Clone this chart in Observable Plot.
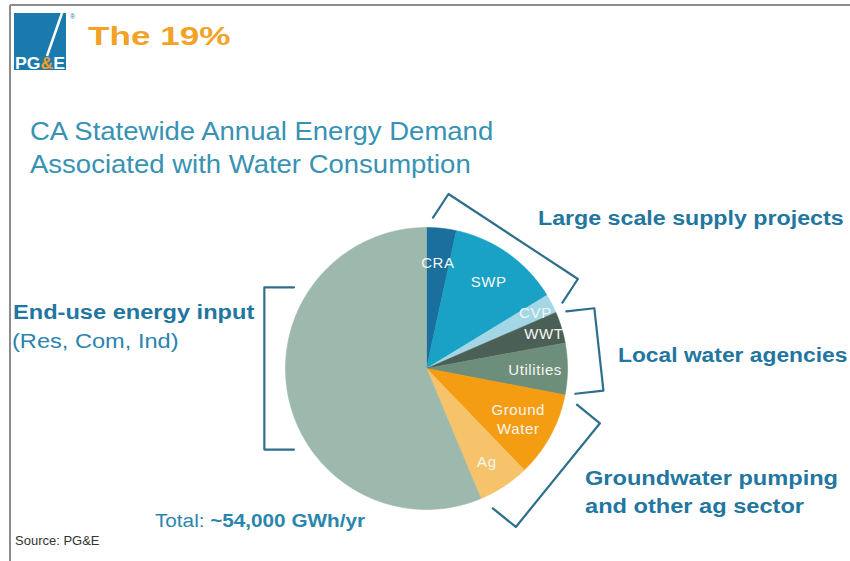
<!DOCTYPE html>
<html><head><meta charset="utf-8">
<script src="https://cdn.jsdelivr.net/npm/d3@7"></script>
<script src="https://cdn.jsdelivr.net/npm/@observablehq/plot@0.6"></script>
<style>
html,body{margin:0;padding:0;background:#fff;}
#wrap{position:relative;width:850px;height:561px;overflow:hidden;font-family:"Liberation Sans",Arial,sans-serif;background:#fff;}
#chart{position:absolute;left:0;top:0;}
.t{position:absolute;white-space:nowrap;line-height:1;transform-origin:0 0;}
.ann{font-weight:bold;font-size:20px;color:#22769f;transform:scaleX(1.18);}
</style></head>
<body>
<div id="wrap">
  <div id="chart"></div>
  <svg style="position:absolute;left:0;top:0" width="850" height="561">
    <line x1="10" y1="5" x2="850" y2="5" stroke="#8c8c8c" stroke-width="2"/>
    <line x1="10" y1="5" x2="10" y2="561" stroke="#8c8c8c" stroke-width="2"/>
    <rect x="14" y="13" width="52" height="57" fill="#1a7aad"/>
    <path d="M62 13 L47 56" stroke="#fff" stroke-width="2.5" fill="none"/>
    <text x="15" y="69" font-family="Liberation Sans, Arial" font-weight="bold" font-size="17" fill="#fff" textLength="50" lengthAdjust="spacingAndGlyphs">PG<tspan fill="#f39c1e">&amp;</tspan>E</text>
    <text x="70" y="19" font-family="Liberation Sans, Arial" font-size="7" fill="#1a7aad">®</text>
  </svg>
  <div class="t" id="title" style="left:88px;top:23px;font-size:26px;font-weight:bold;color:#f2a224;transform:scaleX(1.35)">The 19%</div>
  <div class="t" style="left:30px;top:118.8px;font-size:25px;color:#3792b4;transform:scaleX(1.1)">CA Statewide Annual Energy Demand</div>
  <div class="t" style="left:30px;top:151.8px;font-size:25px;color:#3792b4;transform:scaleX(1.1)">Associated with Water Consumption</div>
  <div class="t ann" style="left:538px;top:208.1px;transform:scaleX(1.16)">Large scale supply projects</div>
  <div class="t ann" style="left:618px;top:345.1px;transform:scaleX(1.14)">Local water agencies</div>
  <div class="t ann" style="left:585px;top:468.1px">Groundwater pumping</div>
  <div class="t ann" style="left:585px;top:496.1px">and other ag sector</div>
  <div class="t ann" style="left:13px;top:302.1px">End-use energy input</div>
  <div class="t" style="left:12px;top:331.1px;font-size:20px;color:#2a84ad;transform:scaleX(1.18)">(Res, Com, Ind)</div>
  <div class="t" style="left:155px;top:511.8px;font-size:18px;color:#2a86ad;transform:scaleX(1.15)">Total: <b>~54,000 GWh/yr</b></div>
  <div class="t" style="left:15px;top:534px;font-size:13px;color:#333">Source: PG&amp;E</div>
</div>
<script>
// ---- data ----
const categories = ["CRA", "SWP", "CVP", "WWT", "Utilities", "Ground Water", "Ag", "End-use"];
const shares = [3.4, 12.9, 2.2, 3.6, 5.9, 9.8, 5.9, 56.3]; // % of ~54,000 GWh/yr
const sliceLabels = ["CRA", "SWP", "CVP", "WWT", "Utilities", "Ground\nWater", "Ag", ""];
const colors = ["#1a6f9c", "#19a2c6", "#a3d7e6", "#4b5f56", "#6e8e7c", "#f59d12", "#f7c36a", "#9db8ad"];
const groupNames = ["Large scale supply projects", "Local water agencies", "Groundwater pumping and other ag sector", "End-use energy input"];
const groupOf = [0, 0, 0, 1, 1, 2, 2, 3];

// ---- layout (positions / sizes) ----
const cx = 426, cy = 368, R = 141;
const labelRadius = [0.76, 0.76, 0.87, 0.87, 0.77, 0.74, 0.78, 0];
const bracketDist = [1.12, 1.23, 1.2, 1.15];
const bracketHook = [0.2, 0.2, 0.21, 0.21];
const bracketOverride = {3: {dir: 270, half: 0.575}};

const arcs = d3.pie().sort(null).value(d => d)(shares);

// slice polygons
const slicePts = [];
arcs.forEach((a, i) => {
  const name = categories[i];
  slicePts.push({name, x: 0, y: 0});
  const n = Math.max(2, Math.ceil((a.endAngle - a.startAngle) / (Math.PI / 360)));
  for (let k = 0; k <= n; k++) {
    const t = a.startAngle + (a.endAngle - a.startAngle) * k / n;
    slicePts.push({name, x: Math.sin(t), y: Math.cos(t)});
  }
  slicePts.push({name, x: 0, y: 0});
});

// labels
const labels = arcs.map((a, i) => {
  const m = (a.startAngle + a.endAngle) / 2;
  return {text: sliceLabels[i], x: labelRadius[i] * Math.sin(m), y: labelRadius[i] * Math.cos(m)};
}).filter(d => d.text);

// brackets from group angle spans
const bracketPts = [];
groupNames.forEach((g, gi) => {
  const members = arcs.filter((a, i) => groupOf[i] === gi);
  const s = d3.min(members, a => a.startAngle), e = d3.max(members, a => a.endAngle);
  let dir = (s + e) / 2, half = Math.sin((e - s) / 2);
  if (bracketOverride[gi]) { dir = bracketOverride[gi].dir * Math.PI / 180; half = bracketOverride[gi].half; }
  const n = [Math.sin(dir), Math.cos(dir)], t = [Math.cos(dir), -Math.sin(dir)];
  const d = bracketDist[gi], h = bracketHook[gi];
  const F = [d * n[0], d * n[1]];
  const E1 = [F[0] - half * t[0], F[1] - half * t[1]];
  const E2 = [F[0] + half * t[0], F[1] + half * t[1]];
  [[E1[0] - h * n[0], E1[1] - h * n[1]], E1, E2, [E2[0] - h * n[0], E2[1] - h * n[1]]]
    .forEach(p => bracketPts.push({g, x: p[0], y: p[1]}));
});

const chart = Plot.plot({
  width: 850,
  height: 561,
  margin: 0,
  style: {background: "transparent", letterSpacing: "0.6px"},
  x: {domain: [-1, 1], range: [cx - R, cx + R], axis: null},
  y: {domain: [-1, 1], range: [cy + R, cy - R], axis: null},
  color: {domain: categories, range: colors},
  marks: [
    Plot.line(slicePts, {x: "x", y: "y", z: "name", fill: "name", stroke: "name", strokeWidth: 0.6, curve: "linear"}),
    Plot.line(bracketPts, {x: "x", y: "y", z: "g", stroke: "#2e6f8e", strokeWidth: 2.2, curve: "linear", strokeLinejoin: "round", strokeLinecap: "round"}),
    Plot.text(labels, {x: "x", y: "y", text: "text", fill: "#f6f6f2", fontSize: 15, lineHeight: 1.3, fontFamily: "Liberation Sans, Arial, sans-serif"})
  ]
});
document.getElementById("chart").appendChild(chart);
</script>
</body></html>
